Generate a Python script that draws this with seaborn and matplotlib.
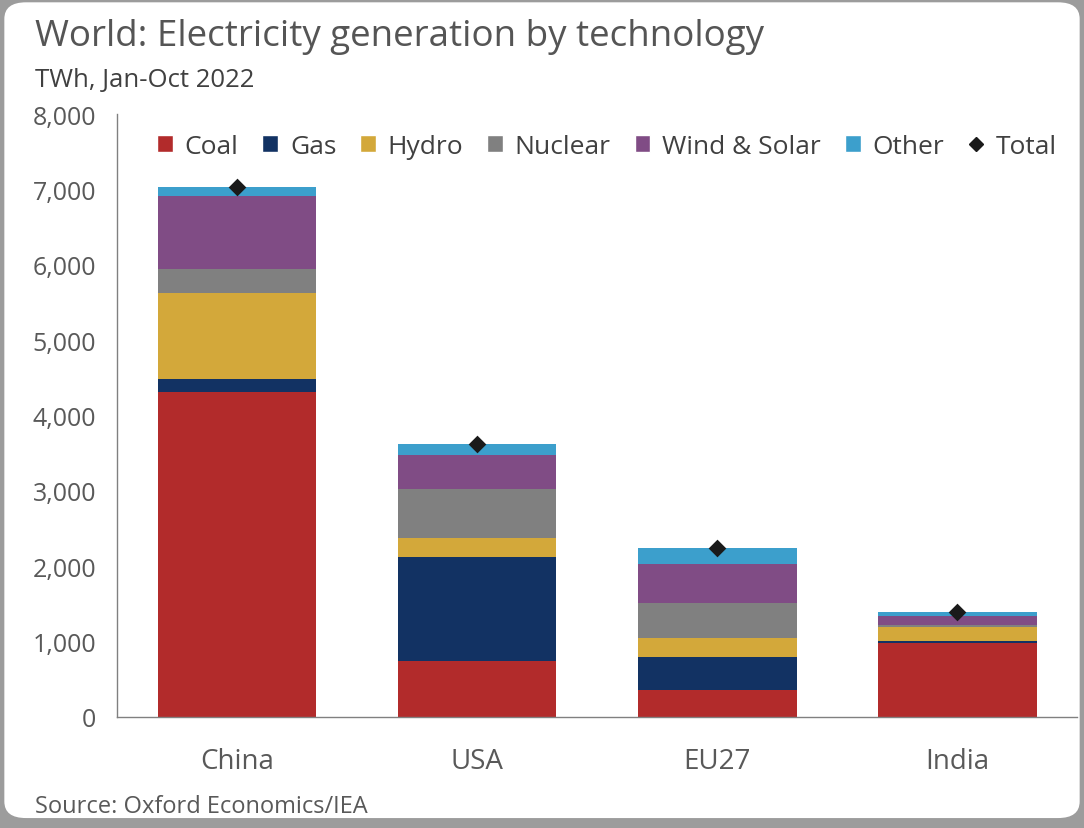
import pandas as pd
import matplotlib.pyplot as plt
import seaborn as sns
from matplotlib.patches import FancyBboxPatch, Patch
from matplotlib.lines import Line2D

# TWh, Jan-Oct 2022
regions = ['China', 'USA', 'EU27', 'India']
coal = [4310, 745, 360, 980]
gas = [175, 1380, 440, 30]
hydro = [1140, 250, 250, 180]
nuclear = [320, 650, 465, 30]
wind_solar = [970, 450, 520, 120]
other = [120, 145, 210, 50]

techs = ['Coal', 'Gas', 'Hydro', 'Nuclear', 'Wind & Solar', 'Other']
colors = ['#B22B2B', '#123263', '#D3A83A', '#808080', '#804C85', '#3C9FCC']

df = pd.DataFrame({'Region': regions, 'Coal': coal, 'Gas': gas, 'Hydro': hydro,
                   'Nuclear': nuclear, 'Wind & Solar': wind_solar, 'Other': other})
cum = df[techs].cumsum(axis=1)
cum['Region'] = df['Region']
df['Total'] = df[techs].sum(axis=1)

sns.set_style('white')
plt.rcParams['font.family'] = ['Open Sans', 'DejaVu Sans']

fig = plt.figure(figsize=(10.84, 8.29), dpi=100, facecolor='#9c9c9c')
card = FancyBboxPatch((0.004, 0.012), 0.992, 0.984, boxstyle='round,pad=0,rounding_size=0.02',
                      transform=fig.transFigure, facecolor='white', edgecolor='none', zorder=-10)
fig.patches.append(card)

ax = fig.add_axes([0.108, 0.134, 0.886, 0.727])
ax.set_facecolor('none')

# stacked bars: draw cumulative totals from the top layer down
for t, c in reversed(list(zip(techs, colors))):
    sns.barplot(data=cum, x='Region', y=t, color=c, saturation=1, width=0.66, linewidth=0, ax=ax)

sns.stripplot(data=df, x='Region', y='Total', marker='D', color='#1a1a1a', size=9,
              jitter=False, ax=ax, zorder=5)

ax.set_xlim(-0.5, 3.5)
ax.set_ylim(0, 8000)
ax.set_yticks(range(0, 8001, 1000))
ax.set_yticklabels([f'{v:,}' for v in range(0, 8001, 1000)])
ax.set_xlabel('')
ax.set_ylabel('')
ax.set_xticks([0.5, 1.5, 2.5], minor=True)
ax.tick_params(axis='x', which='major', length=0, pad=22, labelsize=20, labelcolor='#595959')
ax.tick_params(axis='x', which='minor', length=9, direction='out', color='#808080', width=1)
ax.tick_params(axis='y', length=7, direction='out', color='#808080', width=1, labelsize=18,
               labelcolor='#595959', pad=8)
for s in ['top', 'right']:
    ax.spines[s].set_visible(False)
for s in ['left', 'bottom']:
    ax.spines[s].set_color('#808080')
    ax.spines[s].set_linewidth(1)

handles = [Patch(facecolor=c, label=t) for t, c in zip(techs, colors)]
handles.append(Line2D([], [], marker='D', color='#1a1a1a', linestyle='none', markersize=7, label='Total'))
ax.legend(handles=handles, loc='upper center', bbox_to_anchor=(0.51, 0.998), ncol=7, frameon=False,
          fontsize=19, handlelength=0.6, handleheight=0.6, handletextpad=0.45, columnspacing=0.9,
          borderaxespad=0.3, labelcolor='#404040')

fig.text(0.032, 0.955, 'World: Electricity generation by technology', fontsize=26.5, color='#555555', va='center')
fig.text(0.032, 0.903, 'TWh, Jan-Oct 2022', fontsize=18.5, color='#404040', va='center')
fig.text(0.032, 0.026, 'Source: Oxford Economics/IEA', fontsize=17, color='#595959', va='center')

fig.savefig('out.png', dpi=100, facecolor=fig.get_facecolor())
